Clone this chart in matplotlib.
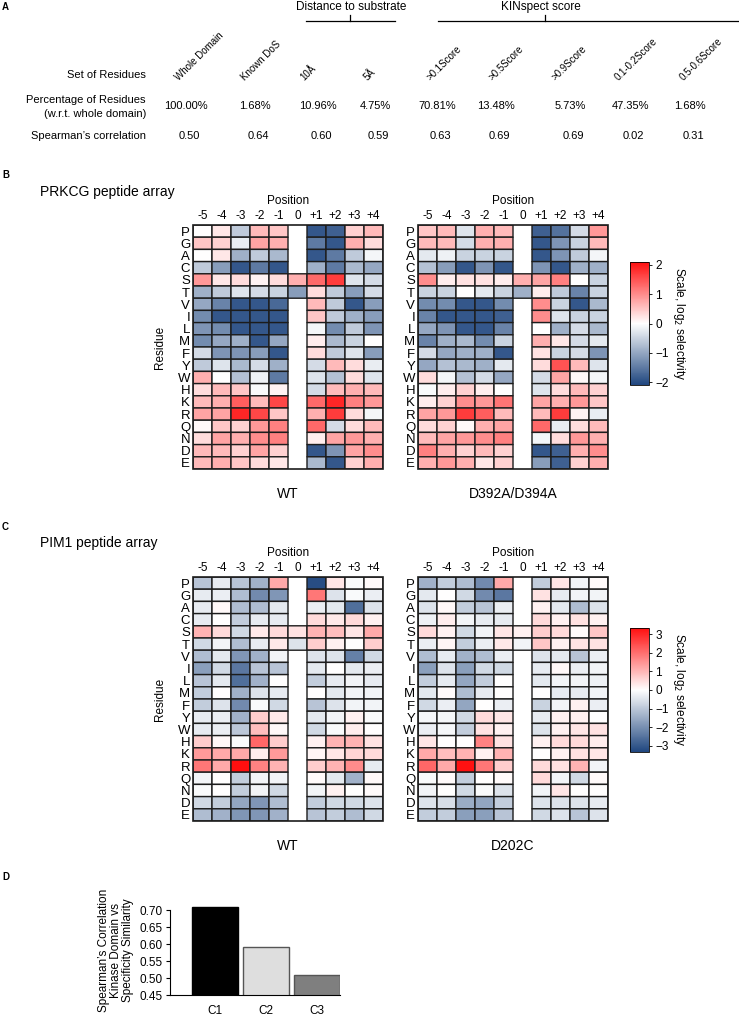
import numpy as np
import matplotlib
matplotlib.use("Agg")
import matplotlib.pyplot as plt
from matplotlib.colors import LinearSegmentedColormap
from matplotlib.patches import Rectangle

n = np.nan

# ---- panel A ----
set_labels = ["Whole Domain", "Known DoS", "10Å", "5Å", ">0.1Score", ">0.5Score",
              ">0.9Score", "0.1-0.2Score", "0.5-0.6Score"]
pct_residues = [100.00, 1.68, 10.96, 4.75, 70.81, 13.48, 5.73, 47.35, 1.68]
spearman = [0.50, 0.64, 0.60, 0.59, 0.63, 0.69, 0.69, 0.02, 0.31]

# ---- panels B / C ----
residues = ["P", "G", "A", "C", "S", "T", "V", "I", "L", "M",
            "F", "Y", "W", "H", "K", "R", "Q", "N", "D", "E"]
positions = ["-5", "-4", "-3", "-2", "-1", "0", "+1", "+2", "+3", "+4"]

prkcg_wt = [
    [0.0, 0.2, -0.6, 0.6, 0.5, n, -1.9, -1.8, 0.4, 0.6],
    [0.5, 0.4, -0.2, 0.8, 0.7, n, -1.5, -1.9, 0.7, 0.3],
    [0.0, 0.2, -0.9, -0.6, -0.8, n, -1.9, -1.5, -0.6, -0.1],
    [-0.6, -1.1, -1.9, -1.5, -1.9, n, -0.9, -1.5, -0.8, -1.0],
    [0.9, 0.2, 0.3, 0.1, 0.3, 0.7, 1.3, 1.7, -0.3, -0.4],
    [-0.9, -0.6, -0.3, -0.4, -0.5, -1.1, 0.3, -0.6, -1.1, -0.4],
    [-1.0, -1.4, -1.9, -1.9, -1.7, n, 0.6, -0.6, -1.9, -1.1],
    [-1.3, -1.9, -1.9, -1.9, -1.9, n, 0.5, -0.6, -0.9, -1.1],
    [-1.2, -1.3, -1.9, -1.9, -1.9, n, -0.1, -1.3, -0.6, -1.2],
    [-1.3, -1.0, -0.9, -1.9, -1.0, n, 0.15, -0.8, -0.5, 0.0],
    [-0.4, -1.2, -1.2, -1.1, -1.9, n, 0.3, -0.6, -0.3, -1.1],
    [-0.6, -0.3, -0.8, -0.4, -0.9, n, -0.4, 0.6, 0.3, -0.2],
    [0.7, 0.0, -0.7, -0.15, -1.5, n, -0.3, -0.7, 0.3, -0.3],
    [0.3, 0.6, 0.5, -0.05, 0.1, n, -0.4, 0.6, 0.7, 0.6],
    [0.6, 0.7, 1.4, 0.6, 1.6, n, 1.3, 1.9, 1.1, 0.9],
    [0.8, 0.8, 1.9, 1.6, 0.5, n, 0.7, 1.7, 0.3, -0.1],
    [0.05, 0.5, 0.4, 0.9, 1.1, n, 1.3, -0.4, 0.3, 0.6],
    [0.3, 0.8, 0.7, 1.0, 1.1, n, 0.15, 0.8, 0.9, 0.7],
    [0.6, 0.6, 0.4, 0.8, 0.4, n, -1.9, -1.2, 0.8, 1.0],
    [0.6, 0.7, 0.5, 0.3, 0.2, n, -0.8, -1.9, 0.4, 0.7],
]

prkcg_mut = [
    [0.5, 0.6, -0.3, 0.7, 0.6, n, -1.8, -1.6, -0.4, 0.9],
    [0.6, 0.6, -0.4, 0.7, 0.7, n, -1.9, -1.2, -0.5, 0.6],
    [-0.25, -0.15, -0.5, -0.5, -0.5, n, -1.9, -1.2, -0.6, -0.1],
    [-0.7, -1.1, -1.9, -1.2, -1.9, n, -1.2, -1.9, -0.9, -0.9],
    [1.0, 0.15, 0.25, 0.25, 0.15, 0.7, 0.8, 1.1, 0.0, -0.5],
    [-0.5, -0.5, 0.0, -0.25, -0.5, -0.9, 0.15, -0.6, -1.4, -0.5],
    [-1.3, -1.3, -1.9, -1.9, -1.3, n, 1.0, -0.5, -1.9, -0.8],
    [-1.4, -1.9, -1.9, -1.9, -1.8, n, 1.0, -0.3, -0.5, -0.5],
    [-1.0, -1.2, -1.9, -1.9, -1.4, n, 0.0, -0.9, -0.4, -0.8],
    [-1.4, -0.9, -0.8, -1.3, -0.5, n, 0.7, 0.2, -0.4, -0.25],
    [-0.4, -1.0, -0.9, -0.9, -1.9, n, 0.25, -0.5, -0.4, -1.2],
    [-1.0, -0.7, -0.8, -0.9, -0.25, n, 0.3, 1.5, 0.6, -0.3],
    [0.3, -0.1, -0.7, -0.4, -1.0, n, -0.4, 0.8, 0.05, -0.1],
    [-0.05, 0.15, 0.4, 0.15, 0.0, n, -0.3, 0.3, 0.6, 0.4],
    [0.15, 0.4, 1.0, 0.9, 1.2, n, 0.8, 0.7, 0.9, 0.5],
    [0.8, 0.9, 1.7, 1.4, 0.6, n, 0.6, 1.7, 0.1, -0.2],
    [0.3, 0.4, 0.05, 0.7, 0.8, n, 1.3, -0.2, 0.3, 0.6],
    [0.6, 0.8, 0.9, 1.0, 1.1, n, -0.1, 0.3, 0.9, 0.7],
    [1.1, 0.7, 0.4, 0.6, 0.4, n, -1.9, -1.8, 0.7, 1.0],
    [0.7, 0.9, 0.7, 0.2, 0.4, n, -1.1, -1.8, 0.4, 0.7],
]

pim1_wt = [
    [-1.05, -0.35, -1.05, -1.4, 1.2, n, -3.2, 0.35, -0.1, 0.07],
    [-0.35, -0.3, -1.2, -2.1, -1.9, n, 1.9, -0.5, -0.1, -0.3],
    [-0.35, 0.1, -1.2, -1.2, -0.4, n, -0.3, -0.4, -2.6, -0.5],
    [-0.35, 0.0, -0.9, -0.35, -0.35, n, 0.5, 0.3, 0.5, 0.2],
    [1.05, 0.5, -0.7, 0.3, 0.5, 0.4, 1.05, 0.9, 0.35, 1.2],
    [-0.7, -0.2, -1.2, -0.35, 0.3, -0.5, 0.7, 0.2, 0.0, 0.7],
    [-1.2, -0.4, -1.9, -1.4, -0.2, n, -0.5, -0.5, -2.3, -0.7],
    [-1.75, -0.7, -2.45, -1.05, -1.05, n, -0.4, 0.0, -0.4, -0.3],
    [-1.05, -0.4, -2.6, -1.4, 0.0, n, -0.9, -0.35, -0.2, -0.35],
    [-0.9, 0.0, -1.4, -0.5, -0.35, n, 0.0, -0.4, -0.2, -0.2],
    [-0.9, -0.5, -2.1, -0.1, -0.7, n, -1.05, -0.5, -0.2, -0.2],
    [-0.35, -0.3, -1.4, 0.7, 0.3, n, -0.4, -0.2, 0.2, -0.1],
    [-0.35, -0.3, -1.0, 0.9, 0.1, n, -0.7, -0.1, 0.25, 0.0],
    [0.7, 0.1, -0.1, 2.1, 0.7, n, 0.2, 1.05, 1.05, 0.4],
    [1.4, 1.2, 1.2, 0.25, 1.4, n, 0.15, 0.35, 0.6, 0.5],
    [1.9, 1.2, 3.5, 1.75, 1.05, n, 0.7, 1.05, 1.6, -0.35],
    [-0.2, 0.0, -0.9, -0.2, -0.2, n, 0.07, -0.4, -1.4, 0.1],
    [-0.1, 0.0, -0.9, -0.2, -0.7, n, -0.2, 0.2, 0.0, 0.07],
    [-0.7, -0.9, -1.6, -1.9, -1.2, n, -0.9, -0.7, -0.7, -0.5],
    [-1.2, -1.4, -1.9, -1.9, -1.4, n, -1.05, -0.9, -1.2, -0.7],
]

pim1_mut = [
    [-1.4, -0.9, -1.2, -2.1, 1.2, n, -0.9, 0.35, -0.2, 0.07],
    [-0.4, 0.0, -0.7, -2.1, -2.45, n, 0.4, -0.35, -0.2, -0.2],
    [-0.5, 0.1, -0.9, -1.05, -0.3, n, 0.2, -0.4, -1.2, -0.5],
    [-0.25, 0.25, -0.2, -0.35, -0.35, n, 0.5, 0.2, 0.4, 0.2],
    [0.5, 0.2, -0.7, -0.2, 0.35, 0.2, 0.7, 0.5, 0.07, 0.8],
    [-0.3, 0.15, -0.9, -0.3, 0.3, -0.2, 0.8, 0.2, 0.4, 0.4],
    [-1.2, -0.35, -1.4, -1.2, -0.3, n, -0.5, -0.4, -1.05, -0.3],
    [-1.75, -0.5, -1.75, -0.7, -0.7, n, -0.35, 0.1, -0.3, -0.2],
    [-0.9, -0.35, -1.6, -0.9, 0.0, n, -0.4, -0.2, -0.2, -0.25],
    [-0.4, 0.07, -1.2, -0.35, 0.0, n, 0.0, -0.35, -0.35, -0.2],
    [-0.7, -0.3, -1.6, 0.0, -0.3, n, -0.8, -0.2, 0.2, -0.3],
    [-0.15, -0.15, -0.7, 0.5, 0.35, n, -0.35, 0.2, 0.2, 0.0],
    [-0.3, -0.15, -0.9, 0.4, 0.2, n, -0.5, 0.2, 0.35, 0.4],
    [0.35, 0.0, 0.0, 1.75, 0.4, n, 0.2, 0.5, 0.5, 0.25],
    [1.2, 0.9, 1.05, 0.2, 1.05, n, 0.0, 0.2, 0.4, 0.35],
    [2.1, 1.2, 3.3, 1.9, 0.7, n, 0.5, 0.4, 1.05, -0.2],
    [-0.1, 0.07, -0.9, 0.0, 0.07, n, 0.5, -0.2, -0.7, 0.07],
    [-0.2, 0.0, -0.7, -0.1, -0.5, n, -0.2, 0.35, 0.0, 0.0],
    [-0.5, -0.6, -1.5, -1.6, -0.9, n, -0.5, -0.5, -0.5, -0.35],
    [-0.9, -0.9, -1.75, -1.75, -1.05, n, -0.7, -0.5, -1.05, -0.5],
]

# ---- panel D ----
clusters = ["C1", "C2", "C3"]
cluster_corr = [0.71, 0.59, 0.51]

W, H = 739, 1024
fig = plt.figure(figsize=(W / 100, H / 100), dpi=100)
fig.patch.set_facecolor("white")

NARROW = ["Liberation Sans Narrow", "Liberation Sans", "DejaVu Sans"]
SANS = ["Liberation Sans", "DejaVu Sans"]
plt.rcParams["font.family"] = SANS

cmap = LinearSegmentedColormap.from_list("bwr_sel", ["#1f467f", "#ffffff", "#ff0f0f"])
GRID = "#1c1c1c"


def px_axes(x0, y0, x1, y1):
    return fig.add_axes([x0 / W, 1 - y1 / H, (x1 - x0) / W, (y1 - y0) / H])


def panel_letter(x, y, s):
    fig.text(x / W, 1 - y / H, s, fontsize=7, fontweight="bold", va="center", ha="left")


# ---------------- panel A ----------------
axA = px_axes(0, 0, W, 170)
axA.set_xlim(0, W)
axA.set_ylim(170, 0)
axA.axis("off")
panel_letter(2, 7, "A")

col_x = [186, 255, 318, 375, 437, 496, 570, 630, 690]
label_x = [180, 246, 306, 369, 432, 494, 557, 620, 685]

axA.text(351, 7, "Distance to substrate", ha="center", va="center", fontsize=8.5, family=NARROW)
axA.plot([306, 395], [21, 21], color="black", lw=0.9)
axA.plot([350, 350], [15, 21], color="black", lw=0.9)
axA.text(541, 7, "KINspect score", ha="center", va="center", fontsize=8.5, family=NARROW)
axA.plot([438, 739], [21, 21], color="black", lw=0.9)
axA.plot([545, 545], [15, 21], color="black", lw=0.9)

axA.text(146, 75, "Set of Residues", ha="right", va="center", fontsize=8, family=NARROW)
axA.text(146, 100, "Percentage of Residues", ha="right", va="center", fontsize=8, family=NARROW)
axA.text(146, 114, "(w.r.t. whole domain)", ha="right", va="center", fontsize=8, family=NARROW)
axA.text(146, 136, "Spearman\u2019s correlation", ha="right", va="center", fontsize=8, family=NARROW)

for x, lx, lab, p, r in zip(col_x, label_x, set_labels, pct_residues, spearman):
    axA.text(lx, 82, lab, rotation=45, rotation_mode="anchor", ha="left", va="bottom",
             fontsize=7, family=NARROW)
    axA.text(x, 106, f"{p:.2f}%", ha="center", va="center", fontsize=8, family=NARROW)
    axA.text(x + 3, 136, f"{r:.2f}", ha="center", va="center", fontsize=8, family=NARROW)


# ---------------- heatmaps ----------------
def draw_heatmap(x0, y0, x1, y1, values, vmax, name, show_ylabel):
    ax = px_axes(x0, y0, x1, y1)
    w, h = x1 - x0, y1 - y0
    data = np.ma.masked_invalid(np.array(values, dtype=float))
    mesh = ax.pcolor(data, cmap=cmap, vmin=-vmax, vmax=vmax, edgecolors=GRID, linewidth=1.0)
    ax.set_xlim(0, 10)
    ax.set_ylim(20, 0)
    ax.add_patch(Rectangle((0, 0), 10, 20, fill=False, ec=GRID, lw=1.2, clip_on=False))
    ax.set_xticks(np.arange(10) + 0.5, positions, fontsize=8.5)
    ax.xaxis.tick_top()
    ax.set_yticks(np.arange(20) + 0.5, residues, fontsize=9.5)
    ax.tick_params(axis="x", length=0, pad=2)
    ax.tick_params(axis="y", length=0, pad=2)
    for sp in ax.spines.values():
        sp.set_visible(False)
    ax.text(0.5, 1 + 24 / h, "Position", transform=ax.transAxes, ha="center",
            va="center", fontsize=8.5)
    ax.text(0.5, -25 / h, name, transform=ax.transAxes, ha="center", va="center",
            fontsize=10)
    if show_ylabel:
        ax.text(-33 / w, 0.5, "Residue", transform=ax.transAxes, rotation=90,
                ha="center", va="center", fontsize=8.5)
    return mesh


def draw_colorbar(mesh, x0, y0, y1, ticks):
    cax = px_axes(x0, y0, x0 + 19, y1)
    cb = fig.colorbar(mesh, cax=cax, ticks=ticks)
    cax.tick_params(labelsize=8.5, length=2.5, width=0.6, pad=2)
    cb.outline.set_linewidth(0.6)
    cb.set_label("Scale, log$_2$ selectivity", rotation=270, fontsize=8.5, labelpad=13)


# panel B
panel_letter(2, 175, "B")
fig.text(40 / W, 1 - 192 / H, "PRKCG peptide array", fontsize=10, va="center")
mB = draw_heatmap(193, 225, 383, 469, prkcg_wt, 2.1, "WT", True)
draw_heatmap(418, 225, 608, 469, prkcg_mut, 2.1, "D392A/D394A", False)
draw_colorbar(mB, 630, 262, 385, [2, 1, 0, -1, -2])

# panel C
panel_letter(2, 527, "C")
fig.text(40 / W, 1 - 543 / H, "PIM1 peptide array", fontsize=10, va="center")
mC = draw_heatmap(193, 577, 383, 821, pim1_wt, 3.35, "WT", True)
draw_heatmap(418, 577, 608, 821, pim1_mut, 3.35, "D202C", False)
draw_colorbar(mC, 630, 628, 752, [3, 2, 1, 0, -1, -2, -3])

# ---------------- panel D ----------------
panel_letter(2, 877, "D")
axD = px_axes(170, 905, 340, 995)
bar_colors = ["#000000", "#dedede", "#7f7f7f"]
axD.bar(np.arange(len(clusters)), cluster_corr, width=0.9, color=bar_colors,
        edgecolor=["#000000", "#555555", "#555555"], linewidth=1.0)
axD.set_xlim(-0.88, 2.45)
axD.set_ylim(0.45, 0.715)
axD.set_yticks([0.45, 0.50, 0.55, 0.60, 0.65, 0.70])
axD.yaxis.set_major_formatter(plt.FuncFormatter(lambda v, _: f"{v:.2f}"))
axD.set_xticks(np.arange(len(clusters)), clusters)
axD.spines["top"].set_visible(False)
axD.spines["right"].set_visible(False)
axD.spines["left"].set_bounds(0.45, 0.70)
axD.tick_params(axis="y", labelsize=8.5, length=3, width=0.8, pad=2)
axD.tick_params(axis="x", labelsize=8.5, length=0, pad=7)
axD.set_ylabel("Spearman\u2019s Correlation\nKinase Domain vs\nSpecificity Similarity",
               fontsize=8.5, linespacing=1.0, labelpad=4)

fig.savefig("out.png", dpi=100, facecolor="white")
